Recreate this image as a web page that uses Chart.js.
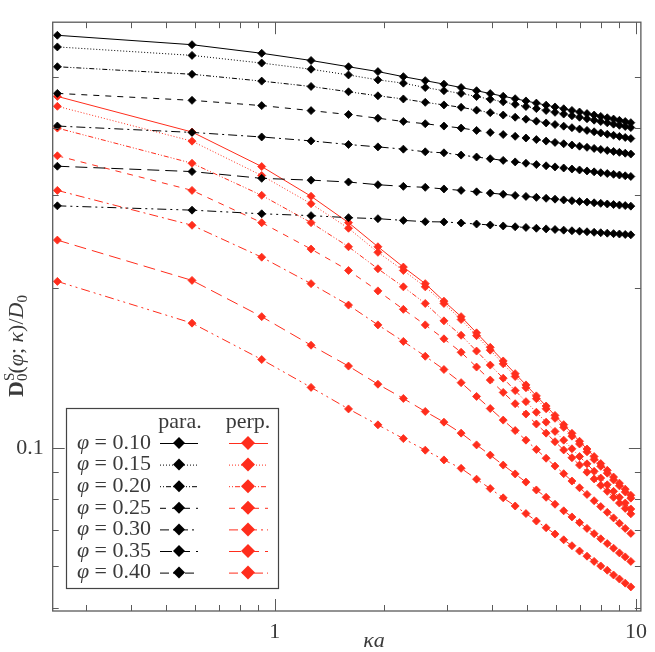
<!DOCTYPE html>
<html>
<head>
<meta charset="utf-8">
<script src="https://cdn.jsdelivr.net/npm/chart.js@4.4.1/dist/chart.umd.min.js"></script>
<style>
  html, body { margin: 0; padding: 0; background: #fff; }
  #wrap { width: 655px; height: 652px; position: relative; }
</style>
</head>
<body>
<div id="wrap"><canvas id="chart"></canvas></div>
<script>
// kappa*a values (x) shared by every curve
const kappaA = [0.25, 0.59, 0.92, 1.26, 1.60, 1.93, 2.27, 2.61, 2.94, 3.28, 3.62, 3.95, 4.29, 4.63,
                4.96, 5.30, 5.64, 5.97, 6.31, 6.65, 6.98, 7.32, 7.66, 7.99, 8.33, 8.67, 9.00, 9.34, 9.68];

const phiLabels = ['0.10', '0.15', '0.20', '0.25', '0.30', '0.35', '0.40'];

// parallel (black)
const para010 = [0.599, 0.575, 0.554, 0.537, 0.5226, 0.5117, 0.5006, 0.492, 0.4846, 0.4775, 0.471, 0.4652, 0.4598, 0.4549, 0.4505, 0.4463, 0.4424, 0.4389, 0.4355, 0.4323, 0.4294, 0.4265, 0.4238, 0.4213, 0.4188, 0.4164, 0.4142, 0.412, 0.41];
const para015 = [0.5695, 0.549, 0.531, 0.517, 0.5043, 0.4936, 0.4867, 0.4775, 0.471, 0.4655, 0.4593, 0.4538, 0.4487, 0.444, 0.4398, 0.4358, 0.4322, 0.4288, 0.4256, 0.4225, 0.4197, 0.417, 0.4144, 0.412, 0.4097, 0.4074, 0.4053, 0.4033, 0.4013];
const para020 = [0.5226, 0.5058, 0.491, 0.4797, 0.4688, 0.4607, 0.4544, 0.4478, 0.4428, 0.4383, 0.4329, 0.4282, 0.4238, 0.4198, 0.4162, 0.4127, 0.4095, 0.4067, 0.4038, 0.4012, 0.3987, 0.3964, 0.3941, 0.3921, 0.39, 0.3881, 0.3863, 0.3845, 0.3827];
const para025 = [0.4655, 0.4517, 0.4415, 0.432, 0.4247, 0.418, 0.4121, 0.4081, 0.404, 0.4005, 0.3964, 0.3928, 0.3894, 0.3864, 0.3836, 0.381, 0.3785, 0.3763, 0.3741, 0.3721, 0.3702, 0.3684, 0.3666, 0.365, 0.3634, 0.3619, 0.3605, 0.3591, 0.3578];
const para030 = [0.404, 0.393, 0.3853, 0.3788, 0.3729, 0.3691, 0.3655, 0.3613, 0.3597, 0.3562, 0.3532, 0.3506, 0.3481, 0.3458, 0.3438, 0.3418, 0.34, 0.3384, 0.3368, 0.3353, 0.3339, 0.3325, 0.3312, 0.33, 0.3288, 0.3277, 0.3267, 0.3256, 0.3246];
const para035 = [0.3394, 0.3316, 0.322, 0.3195, 0.3169, 0.3132, 0.311, 0.3097, 0.3075, 0.3056, 0.3037, 0.302, 0.3005, 0.299, 0.2977, 0.2965, 0.2953, 0.2942, 0.2932, 0.2922, 0.2913, 0.2905, 0.2896, 0.2889, 0.2881, 0.2874, 0.2867, 0.2861, 0.2854];
const para040 = [0.2858, 0.2805, 0.2761, 0.2739, 0.2715, 0.2703, 0.2683, 0.2668, 0.2665, 0.2653, 0.2641, 0.263, 0.2619, 0.261, 0.2602, 0.2593, 0.2586, 0.2579, 0.2572, 0.2565, 0.256, 0.2554, 0.2548, 0.2543, 0.2538, 0.2533, 0.2529, 0.2524, 0.252];

// perpendicular (red)
const perp010 = [0.4595, 0.3937, 0.3389, 0.2979, 0.2657, 0.2393, 0.2191, 0.2039, 0.189, 0.1767, 0.1647, 0.1547, 0.1458, 0.138, 0.1314, 0.1253, 0.1199, 0.1151, 0.1106, 0.1065, 0.1029, 0.0995, 0.0963, 0.0934, 0.0907, 0.0881, 0.0858, 0.0836, 0.0814];
const perp015 = [0.4402, 0.3784, 0.326, 0.2884, 0.2593, 0.2336, 0.2159, 0.2011, 0.1871, 0.1745, 0.1627, 0.1528, 0.144, 0.1363, 0.1298, 0.1238, 0.1185, 0.1137, 0.1093, 0.1052, 0.1017, 0.0983, 0.0951, 0.0923, 0.0896, 0.087, 0.0848, 0.0826, 0.0804];
const perp020 = [0.4005, 0.3438, 0.2991, 0.2657, 0.2393, 0.2175, 0.2011, 0.1871, 0.1735, 0.163, 0.1522, 0.1432, 0.1353, 0.1282, 0.1222, 0.1167, 0.1118, 0.1074, 0.1034, 0.0996, 0.0963, 0.0933, 0.0903, 0.0877, 0.0852, 0.0828, 0.0807, 0.0787, 0.0767];
const perp025 = [0.3551, 0.3056, 0.2657, 0.2369, 0.2159, 0.1976, 0.1824, 0.1705, 0.1605, 0.1514, 0.142, 0.1342, 0.1272, 0.1211, 0.1158, 0.1109, 0.1066, 0.1027, 0.0991, 0.0958, 0.0928, 0.09, 0.0874, 0.085, 0.0828, 0.0807, 0.0787, 0.0769, 0.0751];
const perp030 = [0.3056, 0.2627, 0.2287, 0.2039, 0.1858, 0.1705, 0.1587, 0.1488, 0.1405, 0.1327, 0.125, 0.1186, 0.1128, 0.1078, 0.1034, 0.0993, 0.0956, 0.0924, 0.0894, 0.0866, 0.0841, 0.0817, 0.0795, 0.0775, 0.0756, 0.0738, 0.0721, 0.0705, 0.069];
const perp035 = [0.2463, 0.2068, 0.1767, 0.1561, 0.1426, 0.1318, 0.1239, 0.1171, 0.1118, 0.1066, 0.1013, 0.0969, 0.0928, 0.0893, 0.0862, 0.0833, 0.0807, 0.0783, 0.0761, 0.0741, 0.0723, 0.0705, 0.0689, 0.0674, 0.066, 0.0647, 0.0634, 0.0623, 0.0611];
const perp040 = [0.2059, 0.1718, 0.1467, 0.13, 0.1184, 0.1105, 0.1041, 0.099, 0.0949, 0.0915, 0.0873, 0.0838, 0.0805, 0.0777, 0.0752, 0.0728, 0.0707, 0.0688, 0.0671, 0.0654, 0.0639, 0.0625, 0.0611, 0.0599, 0.0588, 0.0576, 0.0566, 0.0556, 0.0547];

// tick positions
const xMinorTicks = [0.3, 0.4, 0.5, 0.6, 0.7, 0.8, 0.9, 2, 3, 4, 5, 6, 7, 8, 9];
const xMajorTicks = [1, 10];
const yMinorTicks = [0.05, 0.06, 0.07, 0.08, 0.09, 0.2, 0.3, 0.4, 0.5];
const yMajorTicks = [0.1];

const paraSeries = [para010, para015, para020, para025, para030, para035, para040];
const perpSeries = [perp010, perp015, perp020, perp025, perp030, perp035, perp040];

const BLACK = '#000000';
const RED = '#ff2d1c';
const TEXT = '#3a3a3a';
const FRAME = '#5a5a5a';
const FONT = '"Liberation Serif", "DejaVu Serif", serif';

// dash patterns per phi (gnuplot style)
const dashes = [[], [1, 2], [1, 2, 1, 2, 5, 2], [6, 6], [9, 4, 2, 4], [12, 6], [9, 4, 2, 4, 2, 4]];

function makeDataset(vals, color, dash, label) {
    return {
        label: label,
        data: kappaA.map((x, i) => ({ x: x, y: vals[i] })),
        borderColor: color,
        backgroundColor: color,
        borderWidth: 1,
        borderDash: dash,
        pointStyle: 'rectRot',
        pointRadius: 4,
        pointBorderWidth: 0.8,
        pointBorderColor: color,
        pointBackgroundColor: color,
        tension: 0,
        fill: false
    };
}

const datasets = [];
paraSeries.forEach((s, i) => datasets.push(makeDataset(s, BLACK, dashes[i], 'para ' + phiLabels[i])));
perpSeries.forEach((s, i) => datasets.push(makeDataset(s, RED, dashes[i], 'perp ' + phiLabels[i])));

// frame, inward ticks, axis titles and the two-column legend
const decorPlugin = {
    id: 'decor',
    afterDatasetsDraw(chart) {
        const ctx = chart.ctx;
        const a = chart.chartArea;
        const xs = chart.scales.x, ys = chart.scales.y;
        ctx.save();
        ctx.strokeStyle = FRAME;
        ctx.lineWidth = 1.3;
        ctx.setLineDash([]);
        ctx.strokeRect(a.left, a.top, a.right - a.left, a.bottom - a.top);

        ctx.lineWidth = 1;
        const tick = (vals, len) => {
            vals.forEach(v => {
                const px = Math.round(xs.getPixelForValue(v)) + 0.5;
                ctx.beginPath();
                ctx.moveTo(px, a.bottom); ctx.lineTo(px, a.bottom - len);
                ctx.moveTo(px, a.top); ctx.lineTo(px, a.top + len);
                ctx.stroke();
            });
        };
        const ytick = (vals, len) => {
            vals.forEach(v => {
                const py = Math.round(ys.getPixelForValue(v)) + 0.5;
                ctx.beginPath();
                ctx.moveTo(a.left, py); ctx.lineTo(a.left + len, py);
                ctx.moveTo(a.right, py); ctx.lineTo(a.right - len, py);
                ctx.stroke();
            });
        };
        tick(xMinorTicks, 6);
        tick(xMajorTicks, 12);
        ytick(yMinorTicks, 6);
        ytick(yMajorTicks, 12);

        // axis titles
        ctx.fillStyle = TEXT;
        ctx.textAlign = 'center';
        ctx.textBaseline = 'middle';
        ctx.font = 'italic 22px ' + FONT;
        ctx.fillText('\u03BAa', 374, 641);

        ctx.save();
        ctx.translate(17, 300);
        ctx.rotate(-Math.PI / 2);
        ctx.textAlign = 'left';
        let tx = -97;
        const part = (txt, font, dy) => {
            ctx.font = font;
            ctx.fillText(txt, tx, dy);
            tx += ctx.measureText(txt).width;
        };
        part('D', 'bold 22px ' + FONT, 0);
        const subX = tx;
        part('S', '15px ' + FONT, -7);
        tx = subX;
        part('0', '15px ' + FONT, 6);
        part('(', '22px ' + FONT, 0);
        part('\u03C6', 'italic 22px ' + FONT, 0);
        part('; ', '22px ' + FONT, 0);
        part('\u03BA', 'italic 22px ' + FONT, 0);
        part(')/', '22px ' + FONT, 0);
        part('D', 'italic 22px ' + FONT, 0);
        part('0', '15px ' + FONT, 6);
        ctx.restore();

        // legend box
        const box = { l: 66.5, t: 408.5, r: 278.5, b: 588.5 };
        ctx.fillStyle = '#ffffff';
        ctx.fillRect(box.l, box.t, box.r - box.l, box.b - box.t);
        ctx.strokeStyle = '#444';
        ctx.lineWidth = 1.2;
        ctx.strokeRect(box.l, box.t, box.r - box.l, box.b - box.t);

        ctx.fillStyle = TEXT;
        ctx.font = '22px ' + FONT;
        ctx.textBaseline = 'middle';
        ctx.textAlign = 'center';
        ctx.fillText('para.', 180, 422);
        ctx.fillText('perp.', 248, 422);

        const diamond = (cx, cy, r, color) => {
            ctx.setLineDash([]);
            ctx.fillStyle = color;
            ctx.beginPath();
            ctx.moveTo(cx - r, cy); ctx.lineTo(cx, cy - r);
            ctx.lineTo(cx + r, cy); ctx.lineTo(cx, cy + r);
            ctx.closePath();
            ctx.fill();
        };
        phiLabels.forEach((lab, i) => {
            const y = 443 + i * 21.6;
            ctx.fillStyle = TEXT;
            ctx.textAlign = 'right';
            ctx.font = '22px ' + FONT;
            const num = ' = ' + lab;
            ctx.fillText(num, 151, y);
            const w = ctx.measureText(num).width;
            ctx.font = 'italic 22px ' + FONT;
            ctx.fillText('\u03C6', 151 - w, y);

            ctx.lineWidth = 1;
            ctx.setLineDash(dashes[i]);
            ctx.strokeStyle = BLACK;
            ctx.beginPath(); ctx.moveTo(160, y + 0.5); ctx.lineTo(198, y + 0.5); ctx.stroke();
            diamond(179, y, 6, BLACK);
            ctx.setLineDash(dashes[i]);
            ctx.strokeStyle = RED;
            ctx.beginPath(); ctx.moveTo(229, y + 0.5); ctx.lineTo(268, y + 0.5); ctx.stroke();
            diamond(248, y, 7, RED);
        });
        ctx.restore();
    }
};

Chart.defaults.font.family = FONT;
Chart.defaults.color = TEXT;

new Chart(document.getElementById('chart'), {
    type: 'line',
    data: { datasets: datasets },
    options: {
        responsive: true,
        maintainAspectRatio: false,
        animation: false,
        events: [],
        layout: { padding: { top: 15.7, right: 7.3, left: 0, bottom: 0 } },
        plugins: { legend: { display: false }, tooltip: { enabled: false } },
        scales: {
            x: {
                type: 'logarithmic',
                min: 0.2427,
                max: 10.32,
                grid: { display: false, drawTicks: false },
                border: { display: false },
                afterBuildTicks: scale => {
                    scale.ticks = xMinorTicks.concat(xMajorTicks).sort((p, q) => p - q).map(v => ({ value: v }));
                },
                afterFit: scale => { scale.height = 41; },
                ticks: {
                    autoSkip: false,
                    maxRotation: 0,
                    padding: 8,
                    font: { size: 22 },
                    color: TEXT,
                    callback: v => (xMajorTicks.includes(v) ? String(v) : '')
                }
            },
            y: {
                type: 'logarithmic',
                min: 0.04927,
                max: 0.634,
                grid: { display: false, drawTicks: false },
                border: { display: false },
                afterBuildTicks: scale => {
                    scale.ticks = yMinorTicks.concat(yMajorTicks).sort((p, q) => p - q).map(v => ({ value: v }));
                },
                afterFit: scale => { scale.width = 52.7; },
                ticks: {
                    autoSkip: false,
                    padding: 9,
                    font: { size: 22 },
                    color: TEXT,
                    callback: v => (yMajorTicks.includes(v) ? String(v) : '')
                }
            }
        }
    },
    plugins: [decorPlugin]
});
</script>
</body>
</html>
